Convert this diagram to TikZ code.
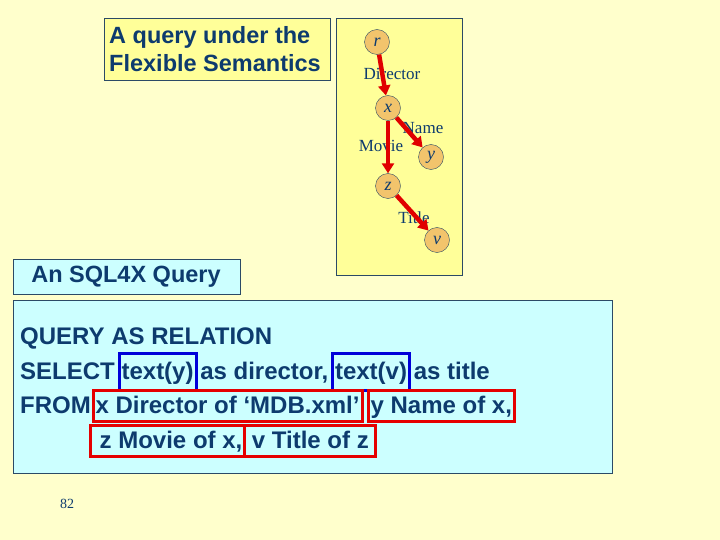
\documentclass[tikz,border=0pt]{standalone}
\usepackage{fontspec}
\setsansfont{Liberation Sans}
\setmainfont{Liberation Serif}
\usetikzlibrary{arrows.meta,positioning}

\definecolor{pagebg}{HTML}{FFFFCC}
\definecolor{boxyellow}{HTML}{FFFF99}
\definecolor{boxcyan}{HTML}{CCFFFF}
\definecolor{navy}{HTML}{0D3B6E}
\definecolor{frame}{HTML}{2B4A66}
\definecolor{nodefill}{HTML}{F2C46C}
\definecolor{arrowred}{HTML}{E00000}

\tikzset{
  treenode/.style={circle,draw=frame,fill=nodefill,inner sep=0pt,minimum size=25pt,
    font=\fontsize{18}{18}\selectfont\itshape,text=navy},
  edgelabel/.style={font=\fontsize{17}{17}\selectfont,text=navy,inner sep=0pt},
  treearrow/.style={arrowred,line width=4.5pt,-{Triangle[length=10pt,width=12pt]}},
  sqlword/.style={font=\sffamily\bfseries\fontsize{24}{24}\selectfont,text=navy,
    inner xsep=2.5pt,inner ysep=4pt,text height=19pt,text depth=4.5pt},
  bluebox/.style={sqlword,draw=blue!85!black,line width=3pt,text height=20pt,text depth=5pt,inner ysep=6pt},
  redbox/.style={sqlword,draw=red!90!black,line width=3pt}
}

\begin{document}
\begin{tikzpicture}[x=1pt,y=-1pt]
\fill[pagebg] (0,0) rectangle (720,540);
\useasboundingbox (0,0) rectangle (720,540);

% title boxes
\node[draw=frame,fill=boxyellow,minimum width=226pt,minimum height=62pt,inner sep=0pt] (titlebox) at (217,49) {};
\node[font=\sffamily\bfseries\fontsize{23.5}{28}\selectfont,text=navy,align=left,anchor=west,inner sep=0pt] (title) at (109,49)
  {A query under the\\Flexible Semantics};
\node[draw=frame,fill=boxyellow,minimum width=126pt,minimum height=257pt,inner sep=0pt] (treebox) at (399,146.5) {};

% tree
\node[treenode] (r) at (377,42) {r};
\node[treenode] (x) at (388,108) {x};
\node[treenode] (y) at (431,157) {y};
\node[treenode] (z) at (388,186) {z};
\node[treenode] (v) at (437,240) {v};

\node[edgelabel] (ldir) at (392,74) {Director};
\node[edgelabel] (lname) at (423,128) {Name};
\node[edgelabel] (lmov) at (381,146) {Movie};
\node[edgelabel] (ltit) at (414,218) {Title};

\draw[treearrow] (r) -- (x);
\draw[treearrow] (x) -- (y);
\draw[treearrow] (x) -- (z);
\draw[treearrow] (z) -- (v);

% query boxes
\node[draw=frame,fill=boxcyan,minimum width=227pt,minimum height=35pt,inner sep=0pt] (sqlbox) at (126.5,276.5) {};
\node[font=\sffamily\bfseries\fontsize{23.5}{23.5}\selectfont,text=navy] (sqltitle) at (126,277) {An SQL4X Query};
\node[draw=frame,fill=boxcyan,minimum width=599pt,minimum height=173pt,inner sep=0pt] (querybox) at (312.5,386.5) {};

\node[sqlword,anchor=base west] (q1) at (17.5,344) {QUERY AS RELATION};

\node[sqlword,anchor=base west] (sel) at (17.5,379) {SELECT};
\node[bluebox,base right=0pt of sel] (ty) {text(y)};
\node[sqlword,base right=0pt of ty] (asdir) {as director,};
\node[bluebox,base right=0pt of asdir] (tv) {text(v)};
\node[sqlword,base right=0pt of tv] (astit) {as title};

\node[sqlword,anchor=base west] (from) at (17.5,413) {FROM};
\node[redbox,base right=-2pt of from] (fx) {x Director of ‘MDB.xml’};
\node[redbox,base right=3pt of fx] (fy) {y Name of x,};

\node[redbox,anchor=base west] (fz) at (89,448) {\ z Movie of x,};
\node[redbox,base right=-3pt of fz,inner xsep=7pt] (fv) {v Title of z};

\node[font=\fontsize{14}{14}\selectfont,text=navy] (page) at (67,504) {82};
\end{tikzpicture}
\end{document}
